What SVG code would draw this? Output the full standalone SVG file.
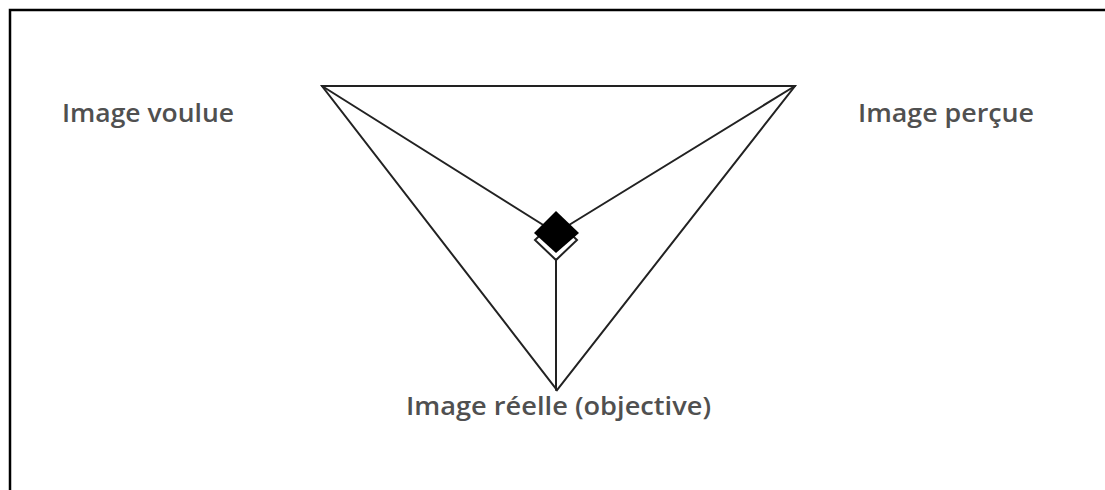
<svg xmlns="http://www.w3.org/2000/svg" width="1105" height="490" viewBox="0 0 1105 490">
<style>
.lbl{font-family:"Open Sans","Liberation Sans",sans-serif;font-size:25px;font-weight:600;fill:#505050;}
.ln{stroke:#222;stroke-width:2;fill:none;stroke-linecap:round;}
</style>
<rect width="1105" height="490" fill="#fff"/>
<polyline points="10,490 10,10 1105,10" fill="none" stroke="#000" stroke-width="2.5"/>
<g id="connectors">
<polygon class="ln" points="322,86 795,86 557,390"/>
<line class="ln" x1="322" y1="86" x2="556" y2="233"/>
<line class="ln" x1="795" y1="86" x2="556" y2="233"/>
<line class="ln" x1="556" y1="258" x2="556" y2="390"/>
</g>
<g id="center">
<polygon points="556,220 577,240 556,260 535,240" fill="#fff" stroke="#222" stroke-width="2"/>
<polygon points="556,211 579,233 556,253 534,233" fill="#000"/>
</g>
<g id="voulue"><text class="lbl" x="62" y="122" textLength="172" lengthAdjust="spacingAndGlyphs">Image voulue</text></g>
<g id="percue"><text class="lbl" x="858" y="122" textLength="176" lengthAdjust="spacingAndGlyphs">Image perçue</text></g>
<g id="reelle"><text class="lbl" x="406" y="415" textLength="305" lengthAdjust="spacingAndGlyphs">Image réelle (objective)</text></g>
</svg>
